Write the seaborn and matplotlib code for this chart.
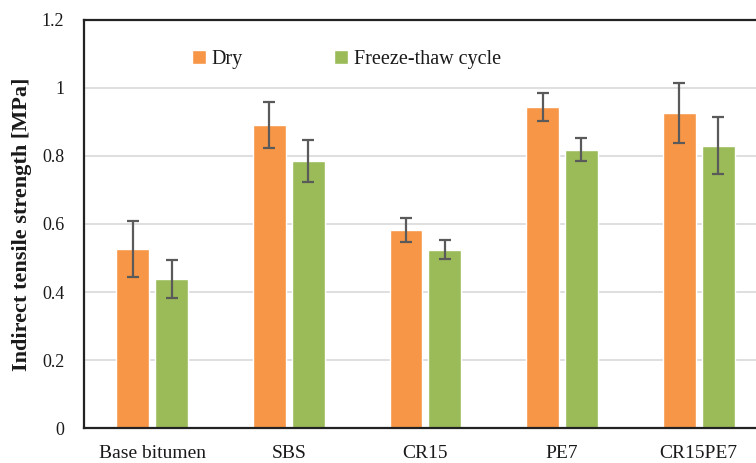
import matplotlib
matplotlib.use("Agg")
import matplotlib.pyplot as plt
import seaborn as sns
import pandas as pd
import numpy as np

categories = ["Base bitumen", "SBS", "CR15", "PE7", "CR15PE7"]
series = ["Dry", "Freeze-thaw cycle"]
dry_mean = [0.527, 0.891, 0.582, 0.943, 0.927]
dry_err = [0.083, 0.068, 0.035, 0.041, 0.088]
ft_mean = [0.439, 0.786, 0.525, 0.818, 0.830]
ft_err = [0.056, 0.062, 0.028, 0.034, 0.083]
yticks = [0, 0.2, 0.4, 0.6, 0.8, 1.0, 1.2]
ytick_labels = ["0", "0.2", "0.4", "0.6", "0.8", "1", "1.2"]

colors = {"Dry": "#F79646", "Freeze-thaw cycle": "#9BBB59"}

df = pd.DataFrame({
    "Binder": categories * 2,
    "Condition": [series[0]] * len(categories) + [series[1]] * len(categories),
    "ITS": dry_mean + ft_mean,
    "err": dry_err + ft_err,
})

sns.set_style("white")
plt.rcParams["font.family"] = ["Liberation Serif", "DejaVu Serif"]
plt.rcParams["text.color"] = "#1a1a1a"

fig = plt.figure(figsize=(7.56, 4.63), dpi=100)
ax = fig.add_axes([83.7 / 756, 1 - 428.3 / 463, (767 - 83.7) / 756, (428.3 - 19.7) / 463])

sns.barplot(data=df, x="Binder", y="ITS", hue="Condition", order=categories,
            hue_order=series, palette=colors, width=0.57, gap=0.16,
            errorbar=None, ax=ax, saturation=1, legend=True)

# error bars positioned on the bars drawn by seaborn
for cont, s in zip(ax.containers, series):
    sub = df[df["Condition"] == s].set_index("Binder").loc[categories]
    xs = [p.get_x() + p.get_width() / 2 for p in cont.patches]
    ax.errorbar(xs, sub["ITS"].values, yerr=sub["err"].values, fmt="none",
                ecolor="#5a5a5a", elinewidth=1.6, capsize=4.5, capthick=1.6, zorder=5)

ax.set_ylim(0, 1.2)
ax.set_xlim(-0.5, 4.5)
ax.set_yticks(yticks)
ax.set_yticklabels(ytick_labels, fontsize=13)
ax.tick_params(axis="x", labelsize=14, pad=12, length=0, labelcolor="#1a1a1a")
ax.tick_params(axis="y", length=0, pad=14, labelcolor="#1a1a1a")
ax.yaxis.grid(True, color="#d9d9d9", linewidth=1.2)
ax.set_axisbelow(True)
ax.set_xlabel("")
ax.set_ylabel("Indirect tensile strength [MPa]", fontsize=16, fontweight="bold",
              labelpad=7, color="#1a1a1a")
for side in ["left", "bottom", "top"]:
    ax.spines[side].set_visible(True)
    ax.spines[side].set_color("#222222")
    ax.spines[side].set_linewidth(1.6)
ax.spines["right"].set_visible(False)

handles, labels = ax.get_legend_handles_labels()
leg = ax.legend(handles, labels, loc="center left", bbox_to_anchor=(0.158, 0.902),
                ncol=2, frameon=False, fontsize=14.5, handlelength=0.7, handleheight=0.7,
                handletextpad=0.3, columnspacing=4.5, borderpad=0, borderaxespad=0)

fig.savefig("out.png", dpi=100)
